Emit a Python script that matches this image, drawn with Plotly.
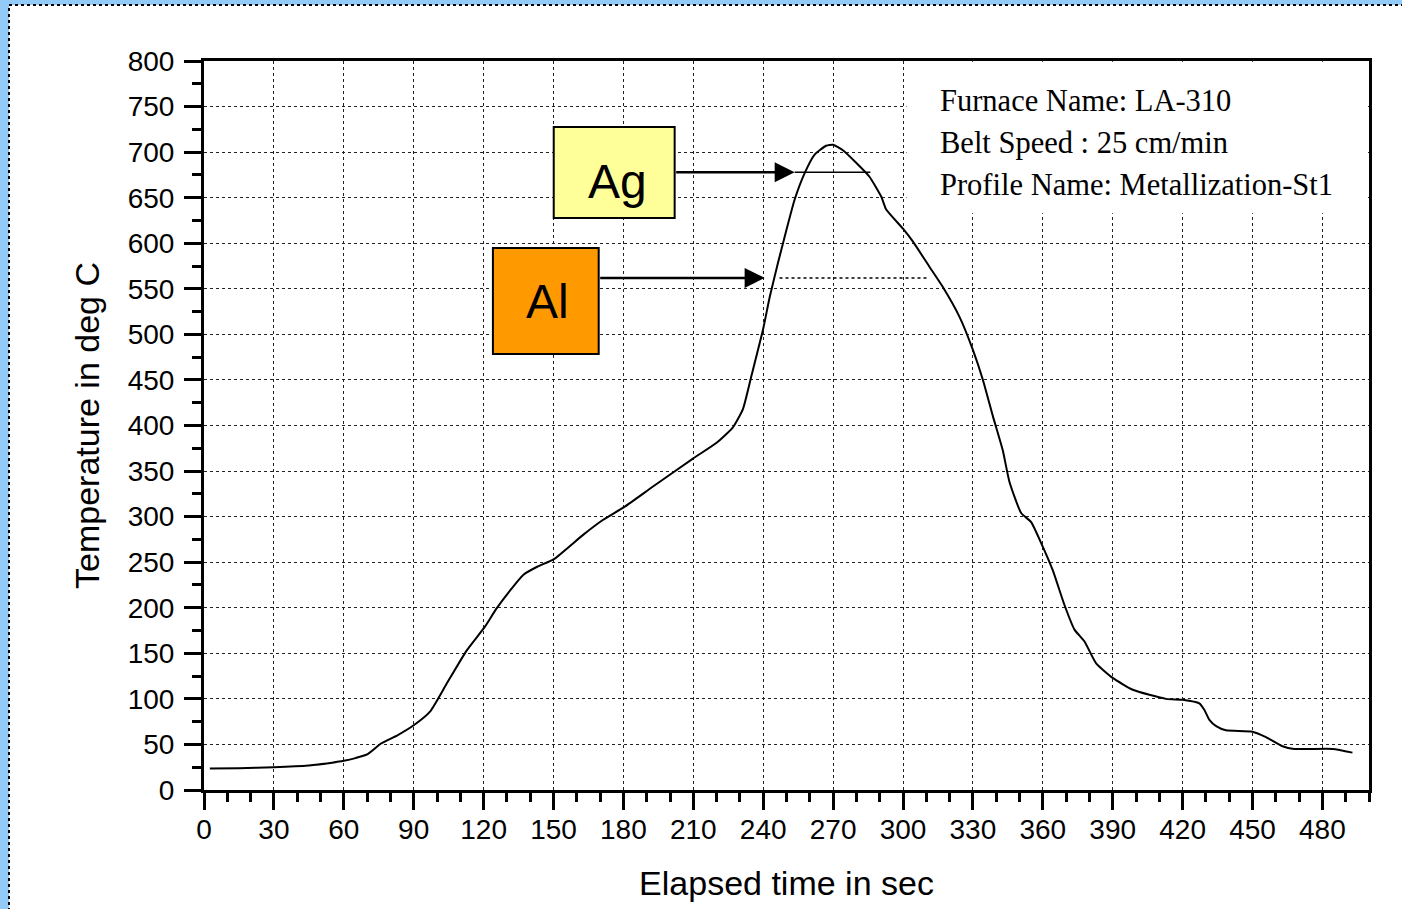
import plotly.graph_objects as go

# Furnace temperature profile (Metallization-St1)
elapsed_s = [2.5, 15, 30, 45, 55, 60, 65, 70, 76, 83, 90, 97, 104, 112.7, 120.5, 125.5,
             132, 137, 143, 150, 162.7, 171, 180.6, 192.7, 210, 220, 227, 231.3, 234.9,
             239.9, 242.8, 246.3, 249.9, 253.5, 257.8, 262, 267, 270, 274.2, 280, 285.6,
             290.7, 292.8, 300, 304.2, 311.4, 317.1, 324.3, 330, 334.3, 338.6, 342.8,
             345.7, 350.7, 355, 359.3, 364.3, 369.3, 373.6, 377.9, 382.9, 390, 398.6,
             412.9, 420, 427.2, 429.3, 431.5, 434.4, 438.6, 450, 455.8, 462.9, 467.9,
             484.4, 492.9]
temp_c = [23.5, 24, 25, 27, 30, 32, 35, 39, 51, 60, 71, 86, 116, 153, 179, 199,
          221, 236, 245, 253, 280, 296, 311, 333, 364, 381, 398, 418, 454,
          505, 541, 578, 614, 648, 677, 697, 707, 708, 702, 688, 673,
          651, 637, 616, 602, 574, 552, 519, 483, 450, 410, 373,
          338, 304, 294, 271, 241, 203, 176, 163, 139, 123, 110,
          100, 99, 95, 88, 77, 70, 65.5, 64, 58, 48, 45,
          45, 41]

x_ticks = list(range(0, 481, 30))
y_ticks = list(range(0, 801, 50))

info_lines = ["Furnace Name: LA-310", "Belt Speed : 25 cm/min", "Profile Name: Metallization-St1"]

ag_level = 678   # Ag firing level marker
al_level = 562   # Al firing level marker

SANS = "Arial, Liberation Sans, sans-serif"
SERIF = "Times New Roman, Liberation Serif, serif"

# plot area in pixels
L, R, T, B = 204, 33, 61, 119
W, H = 1402, 909
PW, PH = W - L - R, H - T - B


def px_x(p):
    return (p - L) / PW


def px_y(p):
    return (H - B - p) / PH


fig = go.Figure()
fig.add_trace(go.Scatter(x=elapsed_s, y=temp_c, mode="lines",
                         line=dict(color="black", width=2, shape="spline", smoothing=0.5),
                         showlegend=False, hoverinfo="skip"))

axis_common = dict(
    showline=True, linewidth=3, linecolor="black", mirror=True,
    ticks="outside", ticklen=17, tickwidth=3, tickcolor="black",
    showgrid=True, gridcolor="#222", gridwidth=1.4, griddash="dot",
    zeroline=False,
    tickfont=dict(family=SANS, size=28, color="black"),
)

fig.update_xaxes(range=[0, 500], tickvals=x_ticks, ticklabelstandoff=-5,
                 minor=dict(dtick=10, tick0=0, ticks="outside", ticklen=9, tickwidth=3,
                            tickcolor="black", showgrid=False),
                 title=dict(text="Elapsed time in sec", standoff=28,
                            font=dict(family=SANS, size=34, color="black")),
                 **axis_common)
fig.update_yaxes(range=[0, 800], tickvals=y_ticks, ticklabelstandoff=4,
                 minor=dict(dtick=25, tick0=0, ticks="outside", ticklen=9, tickwidth=3,
                            tickcolor="black", showgrid=False),
                 title=dict(text="Temperature in deg C", standoff=18,
                            font=dict(family=SANS, size=34, color="black")),
                 **axis_common)

shapes = [
    # page frame: white sheet with dotted edge over the blue background
    dict(type="rect", xref="paper", yref="paper", layer="below",
         x0=px_x(9), x1=px_x(1420), y0=px_y(930), y1=px_y(5),
         fillcolor="white", line=dict(color="black", width=2, dash="dot")),
    # clear panel behind the furnace info text (over the grid, under the curve)
    dict(type="rect", xref="x", yref="y", layer="between",
         x0=301.5, x1=499.5, y0=633, y1=799.3,
         fillcolor="white", line=dict(width=0)),
    # Ag / Al label boxes
    dict(type="rect", xref="x", yref="y", x0=150.1, x1=202, y0=627.7, y1=727.6,
         fillcolor="#FFFF99", line=dict(color="black", width=2)),
    dict(type="rect", xref="x", yref="y", x0=124, x1=169.4, y0=478.5, y1=594.8,
         fillcolor="#FF9900", line=dict(color="black", width=2)),
    # level markers
    dict(type="line", xref="x", yref="y", x0=253.5, x1=286, y0=ag_level, y1=ag_level,
         line=dict(color="black", width=1.5)),
    dict(type="line", xref="x", yref="y", x0=247, x1=311, y0=al_level, y1=al_level,
         line=dict(color="black", width=1.5, dash="dot")),
]

annotations = [
    dict(x=176, y=ag_level, xref="x", yref="y", text="Ag", showarrow=False,
         xshift=3, yshift=-9, font=dict(family=SANS, size=48, color="black")),
    dict(x=146.7, y=536.6, xref="x", yref="y", text="Al", showarrow=False,
         xshift=2, font=dict(family=SANS, size=48, color="black")),
    dict(x=253.5, y=ag_level, ax=202, ay=ag_level, xref="x", yref="y", axref="x", ayref="y",
         text="", showarrow=True, arrowhead=2, arrowsize=1.6, arrowwidth=2.5, arrowcolor="black"),
    dict(x=240.6, y=al_level, ax=169.4, ay=al_level, xref="x", yref="y", axref="x", ayref="y",
         text="", showarrow=True, arrowhead=2, arrowsize=1.6, arrowwidth=2.5, arrowcolor="black"),
]
for i, line in enumerate(info_lines):
    annotations.append(dict(x=px_x(938), y=px_y(101 + 42 * i), xref="paper", yref="paper",
                            xanchor="left", yanchor="middle", text=line, showarrow=False,
                            font=dict(family=SERIF, size=30.5, color="black")))

fig.update_layout(
    width=W, height=H,
    margin=dict(l=L, r=R, t=T, b=B),
    paper_bgcolor="#92CBF7", plot_bgcolor="white",
    shapes=shapes, annotations=annotations,
    showlegend=False,
)

fig.write_html("out.html", config={"displayModeBar": False})
